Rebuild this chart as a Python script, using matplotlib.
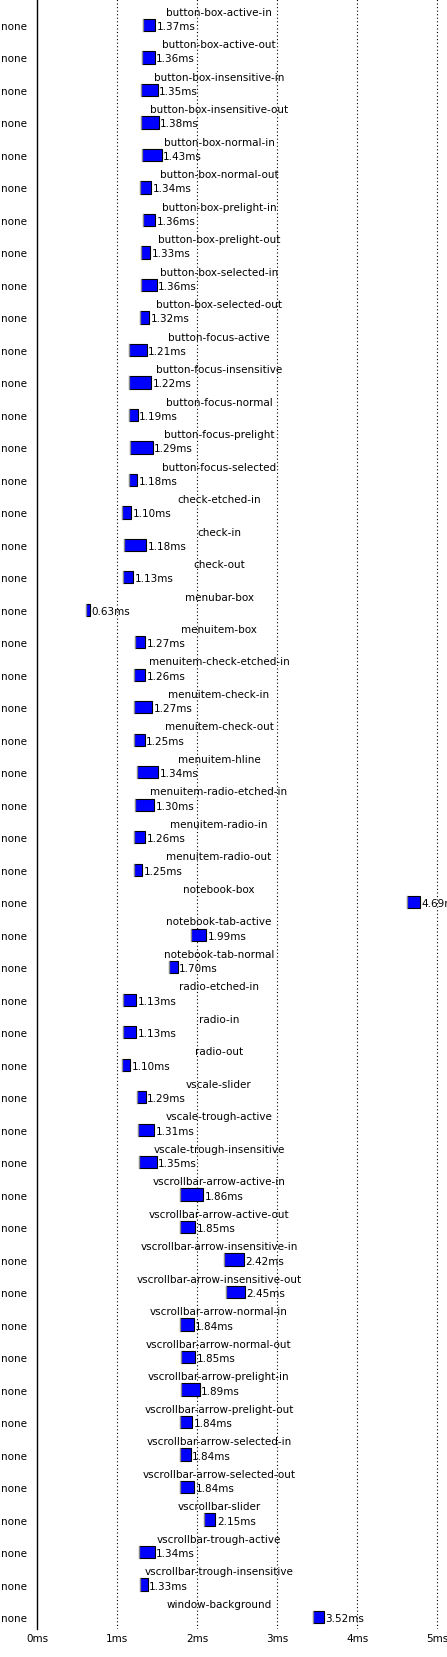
import matplotlib
matplotlib.use("Agg")
import matplotlib.pyplot as plt
from matplotlib.patches import Rectangle

names = [
    "button-box-active-in", "button-box-active-out", "button-box-insensitive-in",
    "button-box-insensitive-out", "button-box-normal-in", "button-box-normal-out",
    "button-box-prelight-in", "button-box-prelight-out", "button-box-selected-in",
    "button-box-selected-out", "button-focus-active", "button-focus-insensitive",
    "button-focus-normal", "button-focus-prelight", "button-focus-selected",
    "check-etched-in", "check-in", "check-out", "menubar-box", "menuitem-box",
    "menuitem-check-etched-in", "menuitem-check-in", "menuitem-check-out",
    "menuitem-hline", "menuitem-radio-etched-in", "menuitem-radio-in",
    "menuitem-radio-out", "notebook-box", "notebook-tab-active", "notebook-tab-normal",
    "radio-etched-in", "radio-in", "radio-out", "vscale-slider", "vscale-trough-active",
    "vscale-trough-insensitive", "vscrollbar-arrow-active-in", "vscrollbar-arrow-active-out",
    "vscrollbar-arrow-insensitive-in", "vscrollbar-arrow-insensitive-out",
    "vscrollbar-arrow-normal-in", "vscrollbar-arrow-normal-out",
    "vscrollbar-arrow-prelight-in", "vscrollbar-arrow-prelight-out",
    "vscrollbar-arrow-selected-in", "vscrollbar-arrow-selected-out",
    "vscrollbar-slider", "vscrollbar-trough-active", "vscrollbar-trough-insensitive",
    "window-background",
]
group_labels = ["none"] * len(names)
values = [
    1.37, 1.36, 1.35, 1.38, 1.43, 1.34, 1.36, 1.33, 1.36, 1.32,
    1.21, 1.22, 1.19, 1.29, 1.18, 1.10, 1.18, 1.13, 0.63, 1.27,
    1.26, 1.27, 1.25, 1.34, 1.30, 1.26, 1.25, 4.69, 1.99, 1.70,
    1.13, 1.13, 1.10, 1.29, 1.31, 1.35, 1.86, 1.85, 2.42, 2.45,
    1.84, 1.85, 1.89, 1.84, 1.84, 1.84, 2.15, 1.34, 1.33, 3.52,
]
lows = [
    1.318, 1.313, 1.293, 1.296, 1.309, 1.288, 1.318, 1.293, 1.296, 1.284,
    1.142, 1.142, 1.146, 1.163, 1.146, 1.063, 1.088, 1.071, 0.605, 1.221,
    1.205, 1.205, 1.205, 1.250, 1.221, 1.209, 1.205, 4.617, 1.921, 1.650,
    1.071, 1.075, 1.063, 1.246, 1.259, 1.268, 1.784, 1.784, 2.338, 2.359,
    1.788, 1.796, 1.796, 1.784, 1.784, 1.784, 2.088, 1.275, 1.284, 3.443,
]
highs = [
    1.471, 1.468, 1.505, 1.518, 1.555, 1.421, 1.471, 1.413, 1.493, 1.396,
    1.368, 1.425, 1.255, 1.443, 1.250, 1.171, 1.359, 1.196, 0.662, 1.346,
    1.350, 1.438, 1.343, 1.513, 1.459, 1.350, 1.309, 4.784, 2.113, 1.755,
    1.238, 1.234, 1.159, 1.355, 1.463, 1.493, 2.075, 1.971, 2.584, 2.596,
    1.955, 1.971, 2.029, 1.934, 1.918, 1.959, 2.225, 1.468, 1.380, 3.580,
]
xticks = [0, 1, 2, 3, 4, 5]
xtick_labels = ["0ms", "1ms", "2ms", "3ms", "4ms", "5ms"]

W, H, DPI = 447, 1658, 100
fig = plt.figure(figsize=(W / DPI, H / DPI), dpi=DPI)
plt.rcParams['font.family'] = ['DejaVu Sans']

px_per_ms = 80.0
x0_px = 37.3
axes_bottom_px = 1630.0
row0_px = 26.0
pitch = 32.49

ax = fig.add_axes([x0_px / W, (H - axes_bottom_px) / H, (W - x0_px) / W, axes_bottom_px / H])
ax.set_xlim(0, (W - x0_px) / px_per_ms)
ax.set_ylim((axes_bottom_px - row0_px) / pitch, -row0_px / pitch)

for s in ["top", "right", "bottom"]:
    ax.spines[s].set_visible(False)
ax.spines["left"].set_color("black")
ax.spines["left"].set_linewidth(1.0)

for t in xticks[1:]:
    ax.axvline(t, color="black", linestyle=(0, (1, 2.2)), linewidth=0.8, zorder=1)

fs = 7.5
ax.set_xticks(xticks)
ax.set_xticklabels(xtick_labels, fontsize=fs)
ax.tick_params(axis="x", length=0, pad=3)
ax.set_yticks([])

box_h = 12.3 / pitch
label_x = (219.0 - x0_px) / px_per_ms
for i, (nm, g, v, lo, hi) in enumerate(zip(names, group_labels, values, lows, highs)):
    ax.add_patch(Rectangle((lo, i - box_h / 2), hi - lo, box_h, facecolor="#0000ff",
                           edgecolor="black", linewidth=0.8, zorder=3))
    ax.plot([lo, lo], [i - box_h / 2, i + box_h / 2], color="#888888", linewidth=0.9, zorder=4)
    ax.text(hi + 1.5 / px_per_ms, i + 4.0 / pitch, f"{v:.2f}ms", fontsize=fs,
            ha="left", va="baseline", color="black", zorder=5, clip_on=False)
    ax.text(label_x, i - 10.3 / pitch, nm, fontsize=fs, ha="center", va="baseline",
            color="black", zorder=5)
    ax.text(-(x0_px - 27.5) / (W - x0_px), i + 4.0 / pitch, g, fontsize=fs, ha="right",
            va="baseline", transform=ax.get_yaxis_transform(), clip_on=False)

fig.savefig("out.png", dpi=DPI, facecolor="white")
